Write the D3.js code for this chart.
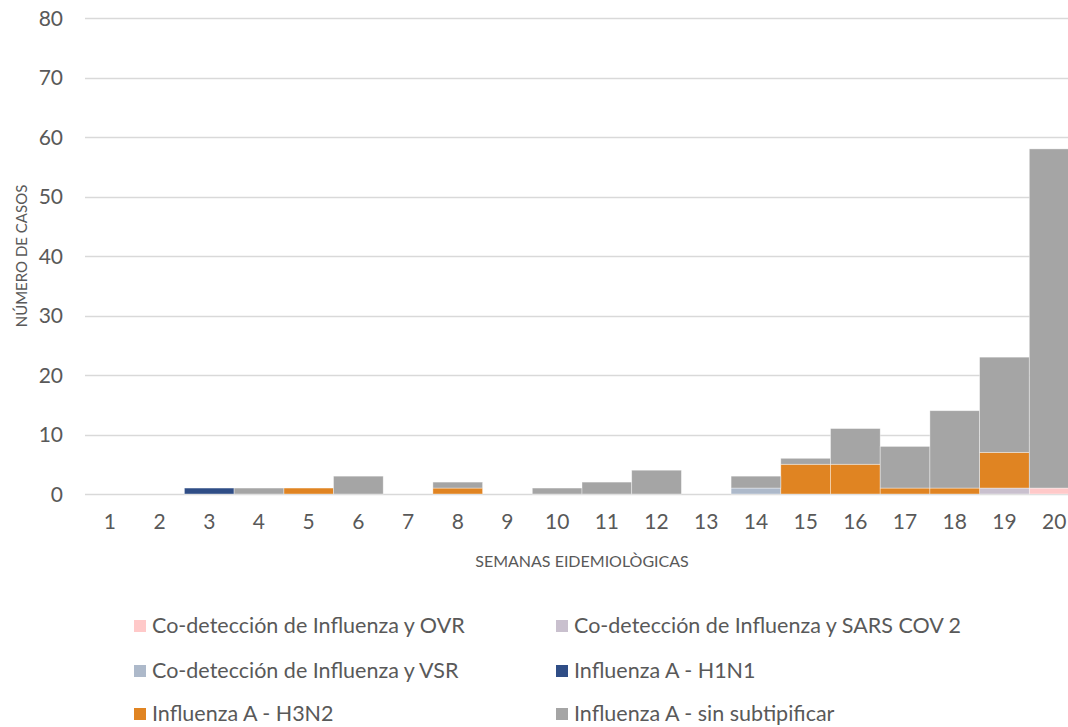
<!DOCTYPE html>
<html><head><meta charset="utf-8">
<script src="https://cdn.jsdelivr.net/npm/d3@7"></script>
<style>body{margin:0;background:#fff;overflow:hidden}svg{display:block}</style>
</head><body><svg id="c" width="1068" height="727"></svg>
<script>
const weeks = ["1","2","3","4","5","6","7","8","9","10","11","12","13","14","15","16","17","18","19","20"];
const ovr   = [0,0,0,0,0,0,0,0,0,0,0,0,0,0,0,0,0,0,0,1];
const sars  = [0,0,0,0,0,0,0,0,0,0,0,0,0,0,0,0,0,0,1,0];
const vsr   = [0,0,0,0,0,0,0,0,0,0,0,0,0,1,0,0,0,0,0,0];
const h1n1  = [0,0,1,0,0,0,0,0,0,0,0,0,0,0,0,0,0,0,0,0];
const h3n2  = [0,0,0,0,1,0,0,1,0,0,0,0,0,0,5,5,1,1,6,0];
const sinSub= [0,0,0,1,0,3,0,1,0,1,2,4,0,2,1,6,7,13,16,57];
const seriesNames = ["Co-detección de Influenza y OVR","Co-detección de Influenza y SARS COV 2","Co-detección de Influenza y VSR","Influenza A - H1N1","Influenza A - H3N2","Influenza A - sin subtipificar"];
const seriesColors = ["#FFC9C9","#C9C0CE","#ADB9CA","#2F4D86","#E08422","#A5A5A5"];
const yTicks = [0,10,20,30,40,50,60,70,80];

const seriesData = [ovr,sars,vsr,h1n1,h3n2,sinSub];
const keys = seriesNames;
const rows = weeks.map((w,i)=>{const r={week:w}; keys.forEach((k,j)=>r[k]=seriesData[j][i]); return r;});
const stack = d3.stack().keys(keys)(rows);

const svg = d3.select("#c");
const font = "Lato, 'Open Sans', sans-serif";
const txt = "#595959";
const L=85, R=1079, T=18, B=494;
const x = d3.scaleBand().domain(weeks).range([L,R]).padding(0);
const y = d3.scaleLinear().domain([0,80]).range([B,T]);

// gridlines
svg.append("g").selectAll("line").data(yTicks).join("line")
  .attr("x1",L).attr("x2",R).attr("y1",d=>Math.round(y(d))+0.5).attr("y2",d=>Math.round(y(d))+0.5)
  .attr("stroke","#d9d9d9").attr("stroke-width",1.5);

// y labels
svg.append("g").selectAll("text").data(yTicks).join("text")
  .attr("x",63).attr("y",d=>y(d)).attr("dy","0.36em").attr("text-anchor","end")
  .attr("font-family",font).attr("font-size",21).attr("fill",txt).text(d=>d);

// bars
svg.append("g").selectAll("g").data(stack).join("g")
  .attr("fill",(d,i)=>seriesColors[i])
  .selectAll("rect").data(d=>d.filter(p=>p[1]-p[0]>0)).join("rect")
  .attr("x",d=>x(d.data.week)).attr("width",x.bandwidth())
  .attr("y",d=>y(d[1])).attr("height",d=>y(d[0])-y(d[1]))
  .attr("stroke","#ffffff").attr("stroke-opacity",0.5).attr("stroke-width",0.75);

// x labels
svg.append("g").selectAll("text").data(weeks).join("text")
  .attr("x",d=>x(d)+x.bandwidth()/2).attr("y",521).attr("dy","0.36em").attr("text-anchor","middle")
  .attr("font-family",font).attr("font-size",21).attr("fill",txt).text(d=>d);

// axis titles
svg.append("text").attr("x",582).attr("y",561).attr("dy","0.36em").attr("text-anchor","middle")
  .attr("font-family",font).attr("font-size",16).attr("fill",txt).text("SEMANAS EIDEMIOLÒGICAS");
svg.append("text").attr("transform","translate(22,256) rotate(-90)").attr("dy","0.36em").attr("text-anchor","middle")
  .attr("font-family",font).attr("font-size",15).attr("fill",txt).text("NÚMERO DE CASOS");

// legend
const legPos = [[134,626],[556,626],[134,671],[556,671],[134,714],[556,714]];
const lg = svg.append("g").selectAll("g").data(seriesNames).join("g")
  .attr("transform",(d,i)=>`translate(${legPos[i][0]},${legPos[i][1]})`);
lg.append("rect").attr("x",0).attr("y",-6).attr("width",12).attr("height",12).attr("fill",(d,i)=>seriesColors[i]);
lg.append("text").attr("x",18).attr("y",0).attr("dy","0.34em")
  .attr("font-family",font).attr("font-size",21.5).attr("fill",txt).text(d=>d);
</script></body></html>
